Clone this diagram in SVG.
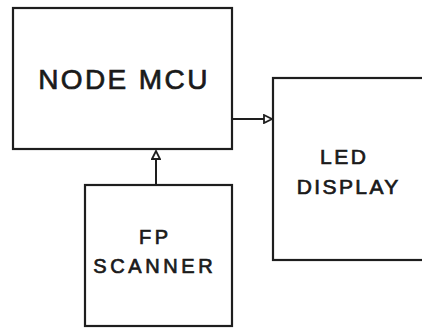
<svg xmlns="http://www.w3.org/2000/svg" width="422" height="329" viewBox="0 0 422 329">
<style>
.box{fill:#fff;stroke:#1e1e1e;stroke-width:2.2}
.lbl{font-family:"Liberation Sans",Arial,sans-serif;fill:#1a1a1a;stroke:#1a1a1a;stroke-width:0.7;text-anchor:middle}
.con{stroke:#1e1e1e;stroke-width:2;fill:none}
</style>
<defs>
<marker id="arr" viewBox="0 0 10 10" refX="9" refY="5" markerWidth="10" markerHeight="10" markerUnits="userSpaceOnUse" orient="auto">
<path d="M1,1 L9,5 L1,9 Z" fill="#fff" stroke="#1e1e1e" stroke-width="1.8"/>
</marker>
</defs>
<rect width="422" height="329" fill="#fff"/>
<g id="node-mcu">
<rect class="box" x="13" y="8" width="219" height="141"/>
<text class="lbl" x="124" y="89" font-size="28" letter-spacing="2.4">NODE MCU</text>
</g>
<g id="led-display">
<rect class="box" x="273" y="78" width="160" height="182"/>
<text class="lbl" x="344.3" y="164" font-size="21" letter-spacing="2.6">LED</text>
<text class="lbl" x="348.7" y="194" font-size="21" letter-spacing="2.4">DISPLAY</text>
</g>
<g id="fp-scanner">
<rect class="box" x="85" y="185" width="147" height="141"/>
<text class="lbl" x="155.3" y="244" font-size="20" letter-spacing="3.4">FP</text>
<text class="lbl" x="154.8" y="273" font-size="20" letter-spacing="3.6">SCANNER</text>
</g>
<g id="connectors">
<line class="con" x1="232" y1="119" x2="272" y2="119" marker-end="url(#arr)"/>
<line class="con" x1="156" y1="185" x2="156" y2="151" marker-end="url(#arr)"/>
</g>
</svg>
